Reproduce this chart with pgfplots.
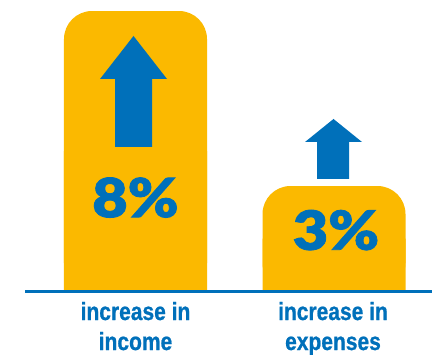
\documentclass[border=0pt]{standalone}
\usepackage{fontspec}
\setmainfont{Liberation Sans}
\newfontfamily\heavy{Lato Black}[FakeStretch=1.13, FakeBold=1.5]
\newfontfamily\cond{Liberation Sans}[FakeStretch=0.84, FakeBold=0.8]
\usepackage{pgfplots}
\pgfplotsset{compat=1.18}
\definecolor{amber}{HTML}{FBB900}
\definecolor{blu}{HTML}{0070BA}
\begin{document}
\begin{tikzpicture}
\useasboundingbox (0,0) rectangle (432bp,355bp);
\begin{axis}[at={(0,0)}, anchor=south west, scale only axis,
  width=432bp, height=355bp,
  xmin=-0.6826, xmax=1.4937, ymin=-1.8286, ymax=8.3143,
  hide axis, clip=false, ybar, bar width=143bp]
\addplot[fill=amber, draw=none, bar shift=0pt, rounded corners=28bp] coordinates {(0,8) (1,3)};
\addplot[fill=amber, draw=none, bar shift=0pt] coordinates {(0,4) (1,1.5)};
\node[text=blu, inner sep=0pt] at (axis cs:0,2.67) {\heavy\fontsize{54bp}{54bp}\selectfont 8\%};
\node[text=blu, inner sep=0pt] at (axis cs:1.01,1.74) {\heavy\fontsize{54bp}{54bp}\selectfont 3\%};
\node[text=blu, inner sep=0pt, anchor=base] at (axis cs:0,-0.829) {\cond\bfseries\fontsize{25bp}{30bp}\selectfont increase in};
\node[text=blu, inner sep=0pt, anchor=base] at (axis cs:0,-1.686) {\cond\bfseries\fontsize{25bp}{30bp}\selectfont income};
\node[text=blu, inner sep=0pt, anchor=base] at (axis cs:0.995,-0.829) {\cond\bfseries\fontsize{25bp}{30bp}\selectfont increase in};
\node[text=blu, inner sep=0pt, anchor=base] at (axis cs:0.995,-1.686) {\cond\bfseries\fontsize{25bp}{30bp}\selectfont expenses};
\end{axis}
\begin{axis}[at={(0,0)}, anchor=south west, scale only axis,
  width=432bp, height=355bp,
  xmin=0, xmax=432, ymin=0, ymax=355, hide axis, clip=false]
\addplot[fill=blu, draw=none] coordinates {(115,208) (152,208) (152,276) (167,276) (133.5,319) (100,276) (115,276)} --cycle;
\addplot[fill=blu, draw=none] coordinates {(317,176) (349,176) (349,213) (362,213) (333.5,236) (305,213) (317,213)} --cycle;
\addplot[blu, line width=2.5bp] coordinates {(25,63.5) (432,63.5)};
\end{axis}
\end{tikzpicture}
\end{document}
